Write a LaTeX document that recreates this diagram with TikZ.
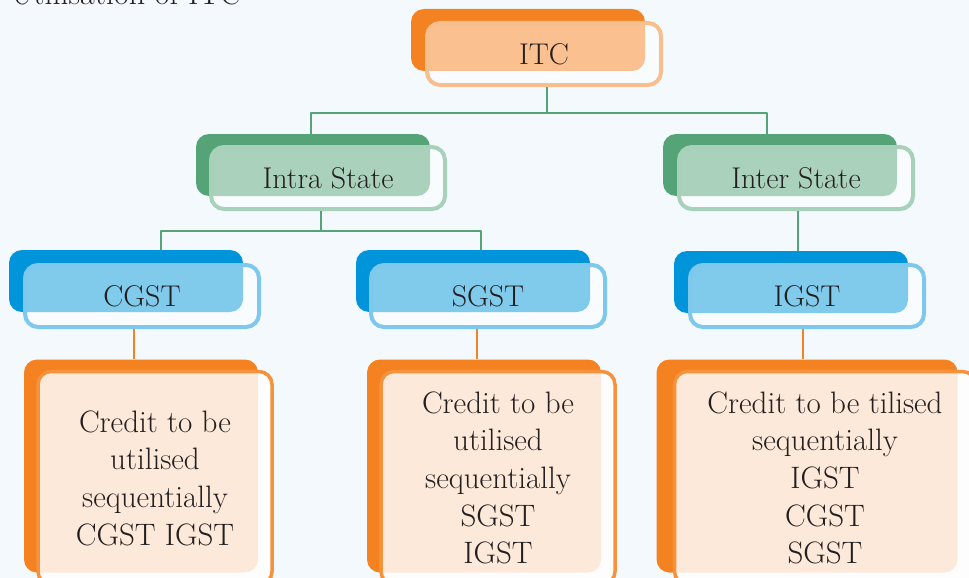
\documentclass[tikz,border=0pt]{standalone}
\usepackage{tikz}

\definecolor{bgblue}{HTML}{F4F9FD}
\definecolor{textdark}{HTML}{231F20}
\definecolor{orangedark}{HTML}{F58220}
\definecolor{orangelight}{HTML}{F8BF8E}
\definecolor{noteedge}{HTML}{F6923C}
\definecolor{greendark}{HTML}{55A477}
\definecolor{greenlight}{HTML}{A7D1B8}
\definecolor{bluedark}{HTML}{0095DA}
\definecolor{bluelight}{HTML}{7DC8EC}

\begin{document}
\begin{tikzpicture}[x=1pt, y=-1pt,
    box/.style={rectangle, rounded corners=13pt, minimum width=234pt,
        minimum height=62pt, inner sep=0pt},
    backbox/.style={box, fill=#1},
    frontbox/.style={box, draw=#1, line width=4pt, fill=white,
        fill opacity=0.5, text opacity=1, text=textdark,
        font=\fontsize{30}{36}\selectfont},
    noteback/.style={box, fill=orangedark, minimum height=213pt},
    notefront/.style={box, minimum height=213pt, draw=noteedge,
        line width=3.5pt, fill=white, fill opacity=0.83, text opacity=1,
        text=textdark, align=center, font=\fontsize{31}{37.7}\selectfont},
    greenline/.style={draw=greendark, line width=2.5pt, line join=round},
    orangeline/.style={draw=orangedark, line width=2pt}]

    \clip (0,0) rectangle (969,578);
    \fill[bgblue] (0,0) rectangle (969,578);

    \node[anchor=base west, inner sep=0pt, text=textdark,
        font=\fontsize{32}{38}\selectfont] (title) at (11,5) {Utilisation of ITC};

    % first row
    \node[backbox=orangedark] (itcback) at (528,40) {};
    \node[frontbox=orangelight] (itc) at (544,54) {ITC};

    % second row
    \node[backbox=greendark] (intraback) at (313,165) {};
    \node[frontbox=greenlight] (intra) at (328,178) {Intra State};
    \node[backbox=greendark] (interback) at (780,165) {};
    \node[frontbox=greenlight] (inter) at (796,178) {Inter State};

    % third row
    \node[backbox=bluedark] (cgstback) at (126,281) {};
    \node[frontbox=bluelight] (cgst) at (142,296) {CGST};
    \node[backbox=bluedark] (sgstback) at (473,281) {};
    \node[frontbox=bluelight] (sgst) at (488,296) {SGST};
    \node[backbox=bluedark] (igstback) at (791,282) {};
    \node[frontbox=bluelight] (igst) at (807,296) {IGST};

    % notes
    \node[noteback] (cgstnoteback) at (141,466) {};
    \node[notefront] (cgstnote) at (155,478)
        {Credit to be\\utilised\\sequentially\\CGST IGST};
    \node[noteback] (sgstnoteback) at (484,466) {};
    \node[notefront] (sgstnote) at (498,478)
        {Credit to be\\utilised\\sequentially\\SGST\\IGST};
    \node[noteback, minimum width=301pt] (igstnoteback) at (807,466) {};
    \node[notefront, minimum width=301pt] (igstnote) at (825,478)
        {Credit to be tilised\\sequentially\\IGST\\CGST\\SGST};

    % connectors
    \coordinate (itcsplit) at (547,113);
    \draw[greenline] (547,0 |- itc.south) -- (itcsplit);
    \draw[greenline] (311,0 |- intraback.north) |- (itcsplit)
        -| (767,0 |- interback.north);

    \coordinate (intrasplit) at (321,231);
    \draw[greenline] (321,0 |- intra.south) -- (intrasplit);
    \draw[greenline] (161,0 |- cgstback.north) |- (intrasplit)
        -| (481,0 |- sgstback.north);

    \draw[greenline] (798,0 |- inter.south) -- (798,0 |- igstback.north);

    \draw[orangeline] (134,0 |- cgst.south) -- (134,0 |- cgstnoteback.north);
    \draw[orangeline] (477,0 |- sgst.south) -- (477,0 |- sgstnoteback.north);
    \draw[orangeline] (803,0 |- igst.south) -- (803,0 |- igstnoteback.north);
\end{tikzpicture}
\end{document}
